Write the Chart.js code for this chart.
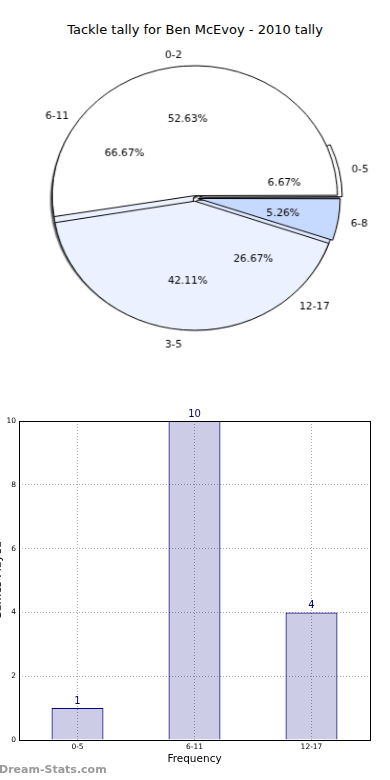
<!DOCTYPE html>
<html>
<head>
<meta charset="utf-8">
<script src="https://cdn.jsdelivr.net/npm/chart.js@4.4.1/dist/chart.umd.min.js"></script>
<style>
  body { margin: 0; background: #fff; width: 390px; height: 780px; overflow: hidden; position: relative; font-family: 'DejaVu Sans', sans-serif; }
  .title { position: absolute; top: 22px; left: 0; width: 390px; text-align: center; font-size: 13px; line-height: 16px; color: #000; }
  .pie { position: absolute; left: 0; top: 28px; width: 390px; height: 340px; transform: scale(1.045, 0.952); transform-origin: 195px 170px; }
  .pie canvas { position: absolute; left: 0; top: 0; }
  .bars { position: absolute; left: -14px; top: 400px; }
  .mark { position: absolute; left: -1px; top: 763px; font: bold 11px 'DejaVu Sans', sans-serif; color: #9a9a9a; }
</style>
</head>
<body>
<div class="title">Tackle tally for Ben McEvoy - 2010 tally</div>
<div class="pie">
  <canvas id="pieBins" width="390" height="340"></canvas>
  <canvas id="pieTally" width="390" height="340"></canvas>
</div>
<canvas class="bars" id="bars" width="394" height="380"></canvas>
<div class="mark">Dream-Stats.com</div>
<script>
// tackle tally per game, grouped two ways
const tallyLabels = ['0-2', '3-5', '6-8']
const tallyValues = [10, 8, 1]
const binLabels = ['0-5', '6-11', '12-17']
const binValues = [1, 10, 4]

const yTicks = [0, 2, 4, 6, 8, 10]

// styles
const tallyColors = ['#ffffff', '#ebf1fe', '#c6d9fe']
const binColors = ['#ffffff', '#ebf1fe', '#dde8fd']
// how far each wedge is pushed out, in pixels
const tallyExplode = [5, 5, 5]
const binExplode = [7, 3, 3]

// matplotlib draws counter-clockwise from 3 o'clock, Chart.js clockwise
const rev = (arr) => arr.slice().reverse()

// Chart.js moves an arc by offset/4 * (2 - sin(min(PI, circumference)))
const shiftFactor = (circ) => (2 - Math.sin(Math.min(Math.PI, circ))) / 4

const toOffsets = (values, explode) => {
  const total = values.reduce((a, b) => a + b, 0)
  return values.map((v, i) => explode[i] / shiftFactor((2 * Math.PI * v) / total))
}

const pieConfig = (labels, values, colors, explode, plugins) => ({
  type: 'pie',
  data: {
    labels: rev(labels),
    datasets: [
      {
        data: rev(values),
        backgroundColor: rev(colors),
        borderColor: '#000',
        borderWidth: 1,
        offset: rev(toOffsets(values, explode)),
        radius: 134,
      },
    ],
  },
  options: {
    responsive: false,
    animation: false,
    rotation: 90,
    layout: { padding: 0 },
    plugins: { legend: { display: false }, tooltip: { enabled: false } },
  },
  plugins: plugins,
})

// drop shadow under the fills only, the outlines stay clean
const shadow = {
  id: 'shadow',
  beforeDatasetsDraw: (chart) => {
    const ctx = chart.ctx
    ctx.save()
    ctx.shadowColor = 'rgba(0,0,0,0.6)'
    ctx.shadowOffsetX = -2
    ctx.shadowOffsetY = 3
    ctx.shadowBlur = 1
    const plainStroke = ctx.stroke
    ctx.stroke = function (...args) {
      this.save()
      this.shadowColor = 'rgba(0,0,0,0)'
      plainStroke.apply(this, args)
      this.restore()
    }
    chart.$plainStroke = plainStroke
  },
  afterDatasetsDraw: (chart) => {
    const ctx = chart.ctx
    ctx.stroke = chart.$plainStroke
    ctx.restore()
  },
}

const drawPieText = (ctx, chart) => {
  const meta = chart.getDatasetMeta(0)
  const values = chart.data.datasets[0].data
  const total = values.reduce((a, b) => a + b, 0)
  ctx.save()
  ctx.fillStyle = '#000'
  ctx.font = "10px 'DejaVu Sans'"
  ctx.textBaseline = 'middle'
  // matplotlib centres the glyph box, which sits a bit lower than 'middle'
  ctx.translate(0, 2.5)
  meta.data.forEach((arc, i) => {
    const { x, y, startAngle, endAngle, outerRadius, circumference } = arc.getProps(
      ['x', 'y', 'startAngle', 'endAngle', 'outerRadius', 'circumference'],
      true
    )
    const mid = (startAngle + endAngle) / 2
    const cos = Math.cos(mid)
    const sin = Math.sin(mid)
    const shift = arc.options.offset * shiftFactor(circumference)
    const cx = x + cos * shift
    const cy = y + sin * shift
    ctx.textAlign = cos > 0 ? 'left' : 'right'
    ctx.fillText(
      chart.data.labels[i],
      cx + cos * outerRadius * 1.09,
      cy + sin * outerRadius * 1.1
    )
    ctx.textAlign = 'center'
    const pct = ((values[i] / total) * 100).toFixed(2) + '%'
    ctx.fillText(pct, cx + cos * outerRadius * 0.6, cy + sin * outerRadius * 0.6)
  })
  ctx.restore()
}

const binPie = new Chart(
  document.getElementById('pieBins'),
  pieConfig(binLabels, binValues, binColors, binExplode, [shadow])
)

// the tally pie sits on top, so it writes the text of both pies
const pieText = {
  id: 'pieText',
  afterDraw: (chart) => {
    drawPieText(chart.ctx, binPie)
    drawPieText(chart.ctx, chart)
  },
}

new Chart(
  document.getElementById('pieTally'),
  pieConfig(tallyLabels, tallyValues, tallyColors, tallyExplode, [pieText])
)

const frame = {
  id: 'frame',
  afterDraw: (chart) => {
    const { ctx, chartArea } = chart
    ctx.save()
    ctx.strokeStyle = '#000'
    ctx.lineWidth = 1
    ctx.strokeRect(
      Math.round(chartArea.left) + 0.5,
      Math.round(chartArea.top) + 0.5,
      Math.round(chartArea.right - chartArea.left),
      Math.round(chartArea.bottom - chartArea.top)
    )
    ctx.restore()
  },
}

const barValues = {
  id: 'barValues',
  afterDatasetsDraw: (chart) => {
    const ctx = chart.ctx
    const meta = chart.getDatasetMeta(0)
    ctx.save()
    ctx.fillStyle = '#000080'
    ctx.font = "10px 'DejaVu Sans'"
    ctx.textAlign = 'center'
    ctx.textBaseline = 'bottom'
    meta.data.forEach((bar, i) => {
      ctx.fillText(String(binValues[i]), bar.x, bar.y - 2)
    })
    ctx.restore()
  },
}

const tickFont = { family: 'DejaVu Sans', size: 7.5 }

new Chart(document.getElementById('bars'), {
  type: 'bar',
  data: {
    labels: binLabels,
    datasets: [
      {
        data: binValues,
        backgroundColor: 'rgba(0,0,128,0.2)',
        borderColor: '#000080',
        borderWidth: 1,
        barPercentage: 0.444,
        categoryPercentage: 1,
      },
    ],
  },
  options: {
    responsive: false,
    animation: false,
    layout: { padding: { left: 0, right: 10, top: 21, bottom: 0 } },
    plugins: { legend: { display: false }, tooltip: { enabled: false } },
    scales: {
      x: {
        grid: { offset: false, color: '#a8a8a8', drawTicks: false },
        border: { display: false, dash: [1, 2] },
        ticks: { font: tickFont, color: '#000', padding: 3 },
        title: {
          display: true,
          text: 'Frequency',
          color: '#000',
          font: { family: 'DejaVu Sans', size: 10.5 },
          padding: { top: 0, bottom: 14 },
        },
        afterFit: (scale) => {
          scale.height = 40
        },
      },
      y: {
        min: yTicks[0],
        max: yTicks[yTicks.length - 1],
        afterBuildTicks: (scale) => {
          scale.ticks = yTicks.map((v) => ({ value: v }))
        },
        grid: { color: '#a8a8a8', drawTicks: false },
        border: { display: false, dash: [1, 2] },
        ticks: { font: tickFont, color: '#000', padding: 3 },
        title: {
          display: true,
          text: 'Games Played',
          color: '#000',
          font: { family: 'DejaVu Sans', size: 11 },
          padding: { top: 6, bottom: 0 },
        },
        afterFit: (scale) => {
          scale.width = 33
        },
      },
    },
  },
  plugins: [frame, barValues],
})
</script>
</body>
</html>
